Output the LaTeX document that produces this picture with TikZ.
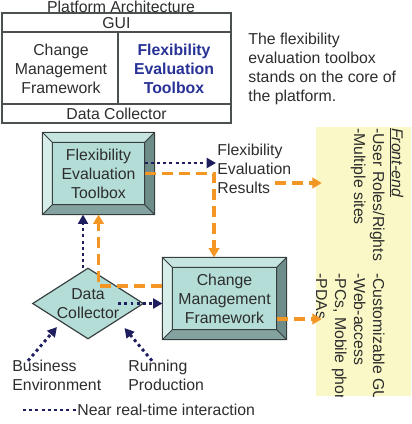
\documentclass[tikz,border=0pt]{standalone}
\usepackage{fontspec}
\setmainfont{Liberation Sans}
\usetikzlibrary{calc,arrows.meta,shapes.geometric}
\definecolor{facecol}{RGB}{180,221,215}
\definecolor{bevlight}{RGB}{214,237,234}
\definecolor{bevtopc}{RGB}{198,229,225}
\definecolor{bevdark}{RGB}{110,140,138}
\definecolor{bevmid}{RGB}{132,162,159}
\definecolor{edgecol}{RGB}{55,62,62}
\definecolor{navycol}{RGB}{30,30,95}
\definecolor{orangecol}{RGB}{243,150,35}
\definecolor{notecol}{RGB}{250,248,198}
\definecolor{txtcol}{RGB}{45,45,45}
\definecolor{bluecol}{RGB}{40,50,150}
\tikzset{
		txt/.style={font=\fontsize{13.5pt}{16.2pt}\selectfont, text=txtcol, inner sep=1pt},
		ctr/.style={txt, align=center},
		boldblue/.style={ctr, text=bluecol, font=\fontsize{13.5pt}{16.2pt}\selectfont\bfseries},
		bevelbox/.style={ctr, draw=edgecol, fill=facecol, line width=1pt},
		bevedge/.style={draw=edgecol, line width=0.8pt},
		tablerule/.style={draw=edgecol!90, line width=1.1pt},
		navyline/.style={navycol, line width=2.5pt, dash pattern=on 2.5pt off 2.8pt},
		navyarrow/.style={navyline, -{Triangle[length=8pt,width=8.5pt]}},
		orangearrow/.style={orangecol, line width=2.8pt, dash pattern=on 9.5pt off 5pt, -{Triangle[length=8pt,width=9pt]}},
		}
% raised frame round a box node
\newcommand\bevelframe[1]{%
	\fill[bevtopc] (#1.north west) -- (#1.north east) -- ($(#1.north east)+(-10,10)$) -- ($(#1.north west)+(10,10)$) -- cycle;
	\fill[bevdark] (#1.north east) -- (#1.south east) -- ($(#1.south east)+(-10,-10)$) -- ($(#1.north east)+(-10,10)$) -- cycle;
	\fill[bevmid] (#1.south east) -- (#1.south west) -- ($(#1.south west)+(10,-10)$) -- ($(#1.south east)+(-10,-10)$) -- cycle;
	\fill[bevlight] (#1.south west) -- (#1.north west) -- ($(#1.north west)+(10,10)$) -- ($(#1.south west)+(10,-10)$) -- cycle;
	\draw[bevedge] (#1.north west) rectangle (#1.south east)
		($(#1.north west)+(10,10)$) rectangle ($(#1.south east)+(-10,-10)$)
		(#1.north west) -- ++(10,10) (#1.north east) -- ++(-10,10)
		(#1.south east) -- ++(-10,-10) (#1.south west) -- ++(10,-10);
}
\begin{document}
\begin{tikzpicture}[x=0.03cm,y=-0.03cm]
	\clip (0,0) rectangle (411,424);
	%TABLE for Platform Architecture
	\draw[tablerule] (2,13) rectangle (231,123);
	\draw[tablerule] (2,32) -- (231,32) (2,104) -- (231,104) (118,32) -- (118,104);
	\node[txt](title) at (121,6.5) {Platform Architecture};
	\node[txt](gui) at (116.5,23) {GUI};
	\node[ctr](cmfcell) at (61,69) {Change\\Management\\Framework};
	\node[boldblue](fetcell) at (174,69) {Flexibility\\Evaluation\\Toolbox};
	\node[txt](dccell) at (116.5,114) {Data Collector};
	\node[txt, align=left, anchor=west](note) at (247,68.5) {The flexibility\\evaluation toolbox\\stands on the core of\\the platform.};
	%NODES for Front-end
	\node[fill=notecol, minimum width=2.85cm, minimum height=8.07cm, inner sep=0pt](fe) at (363.5,261.5) {};
	\begin{scope}
		\clip (fe.north west) rectangle (fe.south east);
		\node[txt, inner sep=0pt, rotate=-90, anchor=north west](fetext) at (405.5,128) {%
			\begin{tabular}{@{}p{4.35cm}@{}l@{}}
				\underline{\textit{Front-end}} & \\
				-User Roles/Rights & -Customizable GUI\\
				-Multiple sites & -Web-access\\
				 & -PCs, Mobile phones,\\
				 & -PDAs
			\end{tabular}};
	\end{scope}
	%NODES for the flow
	\node[bevelbox, minimum width=3.33cm, minimum height=2.43cm](fet) at (98.5,173.5) {Flexibility\\Evaluation\\Toolbox};
	\bevelframe{fet}
	\node[bevelbox, minimum width=3.69cm, minimum height=2.43cm](cmf) at (224.5,298.5) {Change\\Management\\Framework};
	\bevelframe{cmf}
	\node[diamond, draw=edgecol, fill=facecol, line width=1pt, minimum width=3.33cm, minimum height=2.13cm, inner sep=0pt](dc) at (88,303.5) {};
	\node[ctr](dctext) at (dc.center) {Data\\Collector};
	\node[txt, align=left, anchor=west](fer) at (216,169) {Flexibility\\Evaluation\\Results};
	\node[txt, align=left, anchor=west](be) at (11,375.5) {Business\\Environment};
	\node[txt, align=left, anchor=west](rp) at (127,375.5) {Running\\Production};
	\node[txt, anchor=west](legend) at (76,410) {Near real-time interaction};
	%COORDINATES for the connector ends
	\coordinate (fetdot) at ($(fet.east)+(-10,-10.5)$);
	\coordinate (fetdash) at ($(fet.east)+(-10,0)$);
	\coordinate (cmftop) at ($(cmf.north)+(-10.5,0)$);
	\coordinate (cmfleft) at ($(cmf.west)+(0,-12.5)$);
	\coordinate (cmfout) at ($(cmf.east)+(-10,20.5)$);
	\coordinate (resout) at ($(fer.west)+(59,14)$);
	\coordinate (fein1) at (resout -| fe.west);
	\coordinate (fein2) at (cmfout -| fe.west);
	\coordinate (dctop) at ($(dc.north)+(-5,1)$);
	\coordinate (dcright) at ($(dc.east)+(-26,0)$);
	\coordinate (bestart) at ($(be.north west)+(17,2)$);
	\coordinate (rpstart) at ($(rp.north west)+(25,2)$);
	\coordinate (legstart) at (23,410);
	%PATHS
	\draw[navyarrow] (fetdot) -- (fetdot -| fer.west);
	\draw[orangearrow] (fetdash) -| (cmftop);
	\draw[orangearrow] (resout) -- ($(fein1)+(6,0)$);
	\draw[orangearrow] (cmfout) -- ($(fein2)+(6,0)$);
	\draw[orangearrow] (cmfleft) -| (fet.south);
	\draw[navyarrow] (dctop) -- (dctop |- fet.south);
	\draw[navyarrow] (dcright) -- (dcright -| cmf.west);
	\draw[navyarrow] (bestart) -- ($(dc.south west)+(-3,5.5)$);
	\draw[navyarrow] (rpstart) -- ($(dc.south east)+(8.5,6.5)$);
	\draw[navyline] (legstart) -- (legend.west);
\end{tikzpicture}
\end{document}
